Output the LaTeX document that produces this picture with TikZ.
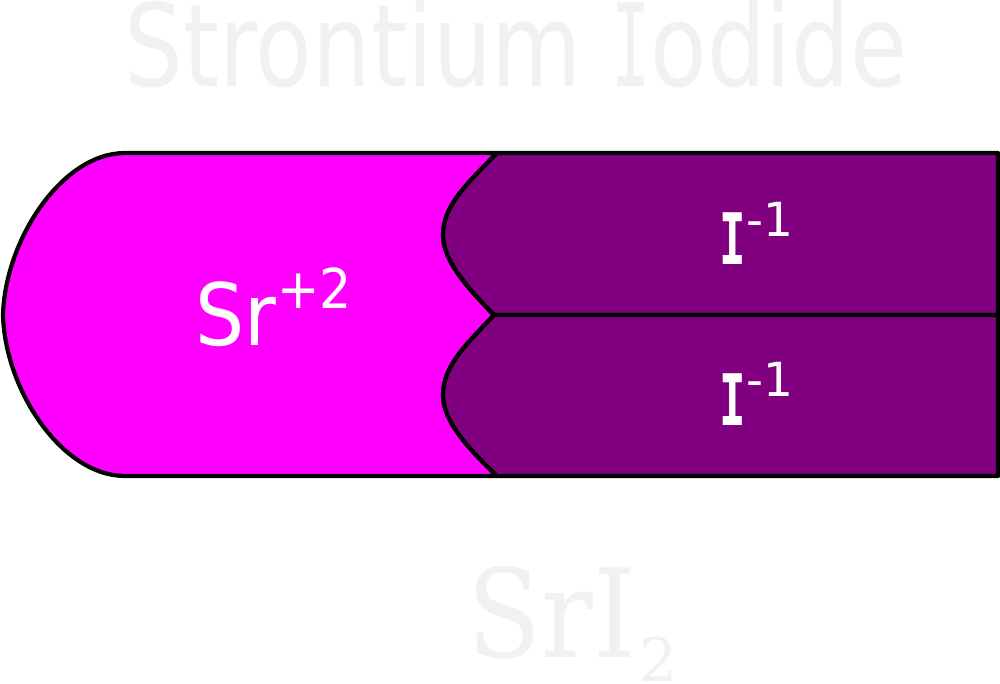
\documentclass[tikz,border=0pt]{standalone}
\usepackage{fontspec}
\setmainfont{DejaVu Sans}
\newfontfamily\serifdv{DejaVu Serif}
\newfontfamily\monodv{DejaVu Sans Mono}
\definecolor{srfill}{RGB}{255,0,255}
\definecolor{ifill}{RGB}{128,0,128}
\definecolor{ghost}{RGB}{241,241,241}
\newcommand{\fs}[1]{\fontsize{#1}{#1}\selectfont}
\begin{document}
\begin{tikzpicture}[x=1pt,y=-1pt,
  piece/.style={draw=black,line width=4.2pt,line join=round},
  lbl/.style={text=white,inner sep=0pt,anchor=base},
  ghosttext/.style={text=ghost,inner sep=0pt,anchor=base}]
\useasboundingbox (0,0) rectangle (1000,683);
% Sr piece
\path[piece,fill=srfill] (125,153) -- (497,153)
  .. controls (468,183) and (443,205) .. (443,235)
  .. controls (443,262) and (470,290) .. (494,315)
  .. controls (468,343) and (443,365) .. (443,395)
  .. controls (443,422) and (470,450) .. (497,476)
  -- (125,476)
  .. controls (62,476) and (5,390) .. (3,315)
  .. controls (5,240) and (62,153) .. (125,153) -- cycle;
% I pieces
\path[piece,fill=ifill] (497,153) -- (998,153) -- (998,315) -- (494,315)
  .. controls (470,290) and (443,262) .. (443,235)
  .. controls (443,205) and (468,183) .. (497,153) -- cycle;
\path[piece,fill=ifill] (494,315) -- (998,315) -- (998,476) -- (497,476)
  .. controls (470,450) and (443,422) .. (443,395)
  .. controls (443,365) and (468,343) .. (494,315) -- cycle;
% texts
\node[ghosttext] (title) at (516,86) {\scalebox{0.805}[1]{\fs{115}Strontium \scalebox{0.7}[1]{\monodv I}odide}};
\node[lbl] (sr) at (235.5,345) {\scalebox{0.9}[1]{\fs{86}Sr}};
\node[lbl] (srsup) at (314.5,308) {\scalebox{0.92}[1]{\fs{55}+2}};
\node[lbl] (i1) at (732.5,264) {\scalebox{0.62}[1]{\fs{71}\monodv\bfseries I}};
\node[lbl] (i1sup) at (770,236) {\fs{47}-1};
\node[lbl] (i2) at (732.5,425) {\scalebox{0.62}[1]{\fs{71}\monodv\bfseries I}};
\node[lbl] (i2sup) at (770,396) {\fs{47}-1};
\node[ghosttext] (formula) at (552,657) {\smash{\scalebox{0.88}[1]{\fs{123}\serifdv SrI}}};
\node[ghosttext] (formulasub) at (659,681) {\smash{\fs{60}\serifdv 2}};
\end{tikzpicture}
\end{document}
